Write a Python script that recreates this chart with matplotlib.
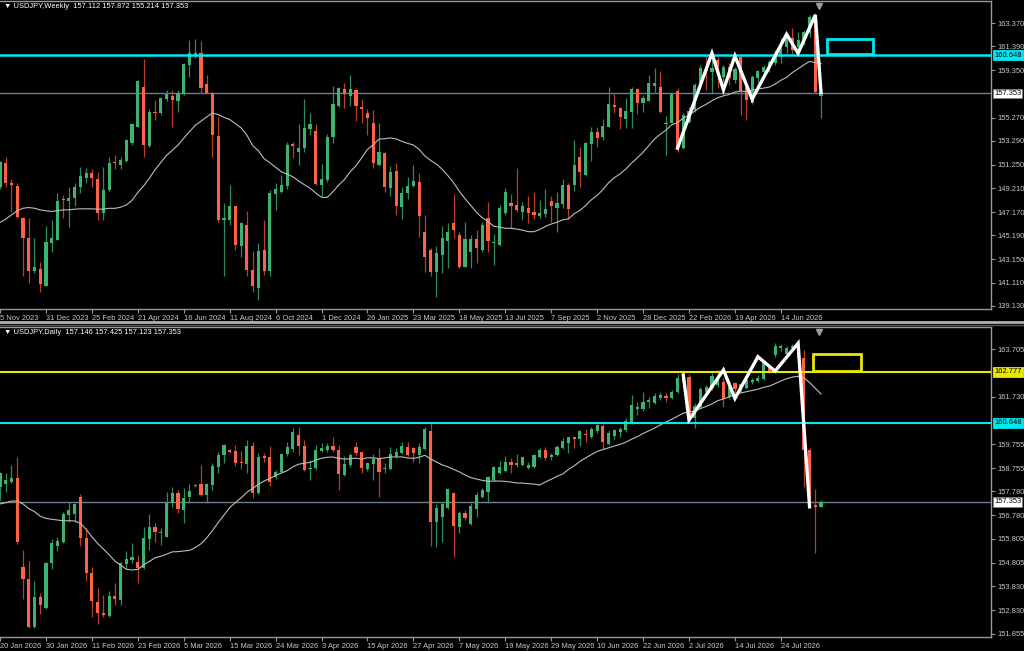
import matplotlib
matplotlib.use("Agg")
import matplotlib.pyplot as plt
from matplotlib.patches import Rectangle
from matplotlib.lines import Line2D
import numpy as np
import pandas as pd

# ---------------- weekly data (USDJPY, Weekly) ----------------
w_open = [
    149.37, 151.43, 149.66, 149.43, 146.71, 144.94, 142.09, 142.29, 140.86, 144.51,
    144.80, 148.30, 148.09, 148.37, 149.31, 150.09, 150.51, 150.03, 147.14, 149.09,
    151.43, 151.23, 151.60, 153.09, 154.51, 157.89, 152.86, 155.80, 155.66, 156.89,
    157.14, 156.74, 157.31, 159.80, 160.66, 160.80, 158.14, 157.43, 153.71, 146.51,
    146.51, 147.66, 144.30, 146.03, 142.23, 140.71, 143.94, 142.17, 148.74, 148.94,
    149.43, 153.00, 152.29, 152.66, 154.29, 154.14, 149.51, 149.94, 153.60, 156.30,
    157.74, 157.14, 157.66, 156.23, 155.71, 154.80, 151.23, 152.23, 149.23, 150.71,
    147.60, 148.80, 149.43, 149.80, 145.51, 143.94, 142.03, 143.51, 144.71, 146.28,
    145.23, 142.46, 143.80, 144.86, 143.94, 146.71, 144.50, 144.37, 147.14, 147.94,
    147.80, 147.23, 147.57, 147.20, 146.86, 147.03, 148.17, 147.57, 147.88, 149.51,
    149.46, 151.94, 150.37, 153.03, 154.03, 153.60, 154.51, 156.37, 156.08, 155.17,
    155.74, 157.74, 156.51, 156.74, 158.03, 157.94, 154.77, 154.86, 157.60, 152.66,
    154.94, 155.94, 158.08, 159.66, 159.23, 160.23, 158.80, 159.66, 158.51, 160.51,
    157.88, 156.51, 158.66, 159.23, 159.51, 159.94, 160.66, 161.37, 162.08, 161.37,
    161.80, 162.51, 164.08, 157.112]
w_high = [
    151.60, 151.94, 150.00, 149.70, 146.80, 146.66, 144.94, 142.94, 146.00, 146.46,
    148.80, 148.66, 149.37, 149.66, 151.03, 150.94, 150.86, 150.66, 151.03, 151.94,
    152.09, 151.94, 153.46, 154.80, 158.51, 160.29, 156.00, 156.80, 157.09, 157.66,
    157.66, 157.66, 159.94, 161.94, 162.00, 161.86, 158.94, 157.51, 155.31, 147.94,
    149.51, 147.66, 146.37, 147.29, 143.88, 144.57, 146.51, 149.09, 149.66, 150.37,
    153.23, 153.23, 154.74, 156.86, 155.66, 154.74, 151.31, 153.88, 158.00, 157.94,
    158.23, 158.94, 157.80, 156.86, 156.00, 155.94, 154.86, 152.37, 151.14, 151.37,
    149.31, 150.23, 151.23, 150.51, 146.94, 144.08, 144.23, 146.00, 146.23, 148.71,
    145.51, 146.37, 145.23, 145.66, 146.37, 148.08, 145.31, 147.80, 149.23, 148.74,
    150.94, 148.08, 148.57, 148.86, 148.23, 149.14, 148.57, 148.94, 150.00, 149.66,
    153.37, 152.74, 153.23, 154.51, 154.51, 155.14, 157.94, 157.29, 156.23, 157.00,
    157.88, 157.80, 157.23, 158.94, 159.51, 159.28, 155.43, 157.51, 157.80, 155.66,
    156.23, 158.23, 159.80, 160.66, 160.23, 160.51, 159.80, 159.94, 159.66, 160.66,
    158.17, 158.94, 159.37, 159.80, 160.23, 161.08, 162.08, 162.51, 162.94, 162.66,
    162.80, 164.08, 164.23, 157.872]
w_low = [
    149.20, 149.37, 147.23, 146.70, 141.66, 141.09, 141.94, 140.29, 140.80, 143.80,
    144.80, 146.66, 145.94, 147.66, 148.80, 149.66, 149.37, 146.51, 146.51, 148.97,
    150.86, 150.86, 151.51, 152.94, 154.51, 151.94, 152.80, 155.09, 155.51, 156.74,
    154.51, 155.80, 157.23, 158.80, 160.37, 157.37, 157.37, 151.94, 146.37, 141.66,
    146.09, 143.94, 143.37, 141.71, 140.37, 139.66, 141.80, 141.66, 147.37, 148.80,
    149.14, 151.80, 151.23, 152.37, 153.80, 149.51, 148.57, 149.80, 153.14, 156.23,
    156.08, 156.28, 155.03, 154.80, 153.80, 150.94, 151.14, 148.94, 148.60, 146.94,
    146.57, 148.28, 149.37, 145.08, 142.08, 141.66, 139.94, 141.94, 142.37, 144.94,
    142.37, 142.43, 142.37, 142.80, 143.80, 143.80, 142.66, 144.23, 146.94, 145.80,
    147.23, 146.51, 146.23, 146.57, 146.66, 146.80, 146.29, 145.51, 147.51, 146.57,
    149.03, 149.37, 150.28, 151.60, 152.80, 153.37, 154.46, 155.71, 154.31, 154.37,
    154.37, 155.57, 155.80, 156.74, 157.51, 155.66, 152.08, 154.80, 152.37, 152.57,
    154.86, 155.80, 158.00, 157.66, 157.37, 157.80, 158.37, 158.08, 158.23, 155.51,
    155.08, 156.46, 158.23, 158.94, 159.23, 159.80, 159.94, 160.80, 160.66, 160.80,
    161.51, 162.23, 157.43, 155.214]
w_close = [
    151.51, 149.66, 149.54, 146.74, 144.94, 142.09, 142.46, 141.03, 144.63, 144.94,
    148.17, 148.20, 148.37, 149.31, 150.29, 150.57, 150.09, 147.09, 149.09, 151.43,
    151.35, 151.66, 153.37, 154.71, 158.46, 152.94, 155.80, 155.66, 156.94, 157.31,
    156.80, 157.43, 159.86, 160.86, 160.80, 157.80, 157.43, 153.80, 146.46, 146.66,
    147.66, 144.37, 146.23, 142.23, 140.80, 143.88, 142.14, 148.80, 149.14, 149.51,
    152.94, 152.86, 152.71, 154.37, 154.74, 149.60, 150.03, 153.66, 156.46, 157.80,
    157.29, 157.71, 156.28, 156.00, 155.23, 151.37, 152.37, 149.31, 150.66, 147.66,
    148.80, 149.43, 149.86, 146.86, 143.37, 142.08, 143.71, 144.94, 145.43, 145.66,
    142.51, 144.86, 144.86, 144.08, 146.08, 144.66, 144.60, 147.51, 148.86, 147.66,
    147.37, 147.74, 147.14, 146.91, 147.09, 147.43, 147.71, 148.00, 149.51, 147.43,
    151.23, 150.66, 153.09, 154.08, 153.51, 154.57, 156.46, 156.17, 155.37, 155.86,
    157.74, 156.57, 156.94, 158.23, 158.23, 155.80, 154.80, 157.28, 152.80, 155.51,
    155.86, 158.08, 159.51, 159.31, 159.51, 159.66, 159.66, 158.66, 159.43, 157.60,
    156.80, 158.80, 159.28, 159.66, 160.08, 160.80, 161.37, 162.23, 161.08, 161.94,
    162.66, 163.94, 157.51, 157.353]
# MA(20) values visible before a full window exists
w_ma_head = [146.29, 146.57, 146.94, 147.29, 147.51, 147.57, 147.51, 147.37, 147.29, 147.23,
             147.31, 147.37, 147.37, 147.43, 147.46, 147.46, 147.46, 147.43, 147.43]
w_zz_idx = [118, 124, 126, 128, 131, 137, 139, 142, 143]
w_zz_px = [152.66, 160.80, 157.66, 160.57, 156.86, 162.43, 160.80, 164.08, 157.43]
w_dates = ["5 Nov 2023", "31 Dec 2023", "25 Feb 2024", "21 Apr 2024", "16 Jun 2024",
           "11 Aug 2024", "6 Oct 2024", "1 Dec 2024", "26 Jan 2025", "23 Mar 2025",
           "18 May 2025", "13 Jul 2025", "7 Sep 2025", "2 Nov 2025", "28 Dec 2025",
           "22 Feb 2026", "19 Apr 2026", "14 Jun 2026"]
w_ticks = [163.370, 161.390, 159.350, 155.270, 153.290, 151.250, 149.210,
           147.170, 145.190, 143.150, 141.110, 139.130]

# ---------------- daily data (USDJPY, Daily) ----------------
d_open = [
    157.98, 158.09, 158.19, 158.35, 154.64, 154.14, 152.11, 153.39, 152.94, 154.78,
    155.52, 155.68, 156.80, 156.84, 157.56, 155.85, 154.36, 153.15, 152.73, 152.58,
    153.42, 153.25, 154.75, 154.92, 154.85, 154.57, 155.78, 156.28, 156.03, 155.89,
    157.31, 157.70, 157.00, 157.53, 158.01, 158.09, 157.63, 158.06, 158.81, 159.30,
    159.51, 159.47, 158.99, 158.92, 159.69, 157.73, 159.26, 159.23, 158.37, 158.60,
    159.34, 159.54, 160.13, 159.68, 158.70, 158.74, 159.48, 159.51, 159.68, 159.51,
    158.47, 158.88, 159.62, 159.44, 158.70, 158.92, 159.12, 158.72, 158.70, 159.26,
    159.40, 159.65, 159.58, 159.30, 159.54, 160.32, 156.52, 156.70, 157.07, 157.70,
    156.31, 156.89, 156.42, 157.03, 157.53, 157.77, 158.26, 158.56, 158.65, 159.02,
    158.87, 158.87, 158.74, 158.79, 159.23, 159.51, 159.20, 159.30, 159.58, 159.81,
    160.04, 159.95, 160.15, 160.07, 160.32, 160.51, 159.76, 160.09, 160.25, 160.34,
    160.62, 161.22, 161.22, 161.53, 161.46, 161.69, 161.78, 161.66, 161.91, 162.43,
    162.57, 160.83, 161.32, 161.94, 162.11, 162.22, 162.36, 161.73, 162.29, 162.01,
    162.11, 162.33, 162.39, 162.47, 162.92, 163.47, 163.75, 163.50, 163.75, 163.75,
    163.36, 159.51, 157.20, 157.146]
d_high = [
    158.60, 158.54, 158.88, 159.23, 155.34, 154.89, 154.06, 153.53, 154.85, 155.78,
    155.89, 156.93, 157.34, 157.31, 157.67, 156.27, 154.64, 153.74, 153.46, 153.64,
    153.97, 154.85, 155.31, 155.61, 155.13, 156.31, 156.84, 156.45, 156.24, 157.77,
    157.98, 157.84, 157.91, 158.09, 158.09, 158.88, 158.12, 158.98, 159.44, 159.76,
    159.54, 159.72, 159.47, 159.93, 159.86, 159.37, 159.37, 159.68, 158.67, 159.40,
    159.86, 160.41, 160.45, 159.93, 159.09, 159.72, 159.81, 159.79, 160.04, 159.72,
    159.26, 159.37, 159.86, 159.44, 159.02, 159.34, 159.58, 158.98, 159.65, 159.58,
    159.86, 159.86, 159.62, 159.79, 160.45, 160.69, 157.26, 157.35, 157.91, 157.77,
    156.98, 157.00, 157.28, 157.77, 157.91, 158.42, 158.84, 159.06, 159.26, 159.16,
    159.34, 159.23, 159.02, 159.34, 159.58, 159.65, 159.37, 159.72, 159.99, 160.07,
    160.07, 160.34, 160.40, 160.45, 160.58, 160.59, 160.34, 160.37, 160.47, 160.83,
    161.80, 161.53, 161.94, 161.73, 161.87, 161.91, 161.87, 162.01, 162.67, 162.85,
    162.67, 161.46, 162.15, 162.22, 162.71, 162.85, 162.50, 162.29, 162.36, 162.29,
    162.50, 162.50, 162.64, 163.26, 162.97, 163.96, 163.92, 163.86, 163.92, 163.96,
    163.68, 159.60, 157.88, 157.425]
d_low = [
    157.42, 157.77, 158.15, 155.59, 153.28, 152.08, 152.07, 152.66, 152.86, 154.53,
    155.31, 155.64, 156.52, 156.52, 155.50, 154.06, 152.55, 152.25, 152.55, 152.53,
    153.04, 153.04, 154.53, 154.81, 153.97, 154.53, 155.34, 155.68, 155.55, 155.89,
    157.14, 156.87, 156.45, 157.31, 157.98, 157.59, 157.28, 157.84, 158.56, 158.98,
    159.40, 158.84, 158.70, 158.56, 157.49, 157.67, 159.02, 158.01, 158.28, 158.56,
    159.26, 159.44, 159.30, 158.65, 158.26, 158.67, 159.44, 159.44, 159.44, 157.84,
    158.42, 158.81, 159.30, 158.56, 158.65, 158.26, 157.56, 158.56, 158.67, 159.16,
    159.34, 159.26, 159.02, 158.98, 159.51, 155.50, 155.47, 155.68, 157.03, 155.03,
    156.03, 156.59, 156.38, 156.73, 157.49, 157.28, 158.23, 158.51, 158.60, 158.56,
    158.81, 158.84, 158.70, 158.76, 159.16, 159.09, 159.09, 159.26, 159.54, 159.37,
    159.58, 159.68, 159.86, 159.99, 160.23, 159.54, 159.72, 159.95, 160.06, 160.27,
    160.58, 160.97, 161.14, 161.28, 161.41, 161.60, 161.50, 161.64, 161.87, 162.36,
    160.72, 160.44, 161.22, 161.83, 162.01, 162.15, 161.32, 161.64, 161.80, 161.94,
    162.05, 162.25, 162.33, 162.43, 162.71, 163.40, 163.64, 163.44, 163.68, 163.17,
    157.98, 157.40, 155.20, 157.123]
d_close = [
    158.54, 158.26, 158.35, 155.68, 154.11, 152.11, 153.39, 153.04, 154.78, 155.64,
    155.71, 156.84, 157.00, 157.24, 155.82, 154.36, 153.22, 152.72, 152.62, 153.42,
    153.28, 154.78, 154.97, 155.06, 154.57, 155.82, 156.31, 156.10, 156.09, 157.31,
    157.70, 157.03, 157.49, 157.81, 158.06, 157.63, 158.09, 158.84, 159.30, 159.72,
    159.44, 158.95, 158.95, 159.69, 157.73, 159.23, 159.19, 158.19, 158.60, 159.34,
    159.62, 160.27, 159.68, 158.67, 158.77, 159.51, 159.61, 159.68, 159.51, 158.51,
    158.92, 159.30, 159.40, 158.74, 158.98, 159.12, 158.59, 158.77, 159.34, 159.44,
    159.68, 159.30, 159.37, 159.62, 160.37, 156.52, 157.07, 157.26, 157.87, 156.34,
    156.89, 156.66, 157.17, 157.63, 157.84, 158.37, 158.79, 158.79, 159.02, 158.87,
    158.95, 159.20, 158.88, 159.30, 159.51, 159.16, 159.29, 159.65, 159.90, 160.04,
    159.98, 160.32, 160.12, 160.37, 160.54, 159.86, 160.20, 160.34, 160.40, 160.72,
    161.39, 161.32, 161.53, 161.58, 161.78, 161.80, 161.69, 161.91, 162.50, 162.61,
    160.83, 161.36, 162.05, 162.15, 162.61, 162.57, 161.64, 162.15, 162.05, 162.25,
    162.43, 162.43, 162.53, 163.17, 162.80, 163.86, 163.86, 163.78, 163.86, 163.33,
    159.51, 157.49, 157.14, 157.353]
d_ma_head = [157.26, 157.31, 157.38, 157.38, 157.26, 157.07, 156.94, 156.75, 156.66, 156.62,
             156.59, 156.56, 156.56, 156.55, 156.45, 156.20, 155.89, 155.61, 155.38]
d_zz_idx = [119, 120, 126, 128, 132, 135, 139, 141]
d_zz_px = [162.64, 160.76, 162.85, 161.66, 163.40, 162.80, 163.96, 157.14]
d_dates = ["20 Jan 2026", "30 Jan 2026", "11 Feb 2026", "23 Feb 2026", "5 Mar 2026",
           "15 Mar 2026", "24 Mar 2026", "3 Apr 2026", "15 Apr 2026", "27 Apr 2026",
           "7 May 2026", "19 May 2026", "29 May 2026", "10 Jun 2026", "22 Jun 2026",
           "2 Jul 2026", "14 Jul 2026", "24 Jul 2026"]
d_ticks = [163.705, 161.730, 159.755, 158.755, 157.780, 156.780, 155.805,
           154.805, 153.830, 152.830, 151.855]

last_price = 157.353
cyan_level = 160.648
yellow_level = 162.777

BULL, BEAR = "#3cb371", "#ff6347"
BULL_W, BEAR_W = "#2e8b57", "#b8402a"
LBL = "#c8c8c8"
FONT = ["Liberation Sans", "DejaVu Sans"]
plt.rcParams["font.family"] = FONT
FS = 5.4


def draw_candles(ax, o, h, l, c, min_body):
    o, h, l, c = map(np.asarray, (o, h, l, c))
    x = np.arange(len(o))
    up = c >= o
    wick_col = np.where(up, BULL_W, BEAR_W)
    ax.vlines(x, l, h, colors=wick_col, linewidth=0.9, zorder=2)
    body = np.maximum(np.abs(c - o), min_body)
    bottom = np.minimum(o, c)
    ax.bar(x[up], body[up], bottom=bottom[up], width=0.55, color=BULL, linewidth=0, zorder=3)
    ax.bar(x[~up], body[~up], bottom=bottom[~up], width=0.55, color=BEAR, linewidth=0, zorder=3)


def moving_average(close, head):
    ma = pd.Series(close).rolling(20).mean().to_numpy()
    ma[:len(head)] = head
    return ma


def style_axes(ax, ylim, ticks, dates):
    ax.set_facecolor("black")
    ax.set_xlim(0, 172.6)
    ax.set_ylim(*ylim)
    ax.yaxis.tick_right()
    ax.set_yticks(ticks)
    ax.set_yticklabels([f"{t:.3f}" for t in ticks])
    ax.set_xticks(np.arange(0, 8 * len(dates), 8))
    ax.set_xticklabels(dates)
    ax.tick_params(axis="both", colors="#9a9a9a", labelcolor=LBL, labelsize=FS,
                   length=3, width=0.8, pad=1.5)
    for lab in ax.get_xticklabels():
        lab.set_horizontalalignment("left")
    for side in ("top", "right", "bottom"):
        ax.spines[side].set_color("#9a9a9a")
        ax.spines[side].set_linewidth(1.0)
    ax.spines["left"].set_visible(False)


def price_box(ax, y, fc):
    ax.text(1.003, y, f"{y:.3f}", transform=ax.get_yaxis_transform(), fontsize=FS,
            color="black", va="center", ha="left", zorder=10, clip_on=False,
            bbox=dict(boxstyle="square,pad=0.18", fc=fc, ec=fc if fc != "white" else "#808080", lw=0.6))


fig = plt.figure(figsize=(10.24, 6.51), dpi=100, facecolor="black")
H = 651.0
ax_w = fig.add_axes([0, 1 - 309 / H, 991 / 1024, 308 / H])
ax_d = fig.add_axes([0, 1 - 637 / H, 991 / 1024, 310 / H])

# ---- weekly panel ----
style_axes(ax_w, (138.87, 165.28), w_ticks, w_dates)
draw_candles(ax_w, w_open, w_high, w_low, w_close, 0.09)
ax_w.plot(np.arange(len(w_close)), moving_average(w_close, w_ma_head), color="#bdbdbd", lw=0.8, zorder=4)
ax_w.axhline(cyan_level, color="#00e8f0", lw=1.8, zorder=5)
ax_w.axhline(last_price, color="#6f7f8f", lw=1.0, zorder=1)
ax_w.plot(w_zz_idx, w_zz_px, color="white", lw=2.4, zorder=6, solid_joinstyle="miter")
ax_w.add_patch(Rectangle((144, 160.70), 8.1, 1.36, fill=False, ec="#00e8f0", lw=2, zorder=6))
price_box(ax_w, cyan_level, "#00e8f0")
price_box(ax_w, last_price, "white")
ax_w.plot([142.6], [0.985], marker="v", ms=5, color="#9a9a9a",
          transform=ax_w.get_xaxis_transform(), clip_on=False, zorder=7)

# ---- daily panel ----
style_axes(ax_d, (151.71, 164.64), d_ticks, d_dates)
draw_candles(ax_d, d_open, d_high, d_low, d_close, 0.045)
ma_d = moving_average(d_close, d_ma_head)
ax_d.plot(np.arange(len(d_close)), ma_d, color="#bdbdbd", lw=0.8, zorder=4)
ax_d.axhline(yellow_level, color="#e8e800", lw=1.5, zorder=5)
ax_d.axhline(cyan_level, color="#00e8f0", lw=1.5, zorder=5)
ax_d.axhline(last_price, color="#6f7f8f", lw=1.0, zorder=1)
ax_d.plot(d_zz_idx, d_zz_px, color="white", lw=2.4, zorder=6, solid_joinstyle="miter")
ax_d.add_patch(Rectangle((141.6, 162.82), 8.3, 0.68, fill=False, ec="#e8e800", lw=2, zorder=6))
price_box(ax_d, yellow_level, "#e8e800")
price_box(ax_d, cyan_level, "#00e8f0")
price_box(ax_d, last_price, "white")
ax_d.plot([142.6], [0.985], marker="v", ms=5, color="#9a9a9a",
          transform=ax_d.get_xaxis_transform(), clip_on=False, zorder=7)

# ---- headers & separator ----
fig.text(4 / 1024, 1 - 7 / H, "\u25BC USDJPY,Weekly  157.112 157.872 155.214 157.353",
         color="white", fontsize=FS, va="center", ha="left", family=FONT)
fig.text(4 / 1024, 1 - 333 / H, "\u25BC USDJPY,Daily  157.146 157.425 157.123 157.353",
         color="white", fontsize=FS, va="center", ha="left", family=FONT)
fig.add_artist(Line2D([0, 1], [1 - 321.5 / H] * 2, transform=fig.transFigure, color="#b0b0b0", lw=2))
fig.add_artist(Line2D([0, 1], [1 - 324.5 / H] * 2, transform=fig.transFigure, color="#5a5a5a", lw=1))

fig.savefig("out.png", dpi=100, facecolor="black")
